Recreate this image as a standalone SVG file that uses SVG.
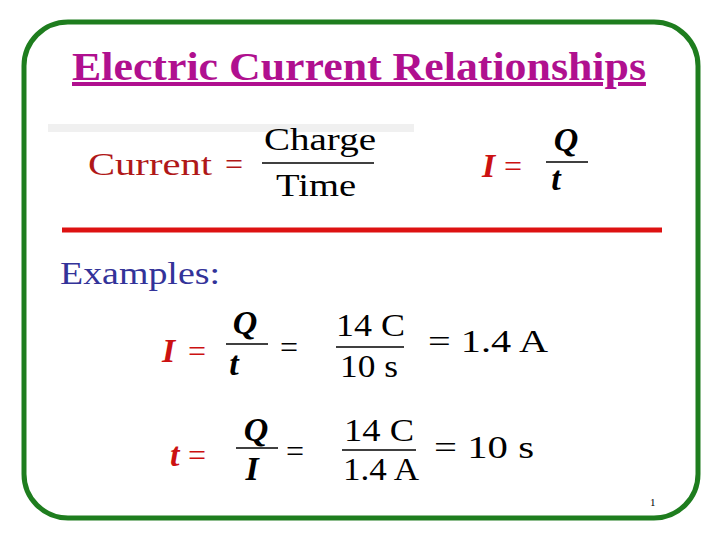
<svg xmlns="http://www.w3.org/2000/svg" width="720" height="540" viewBox="0 0 720 540">
<style>
.t{font-family:"Liberation Serif",serif}
.b{font-family:"Liberation Serif",serif;font-weight:bold;fill:#000}
.i{font-family:"Liberation Serif",serif;font-style:italic;font-weight:bold}
.red{fill:#cc1111}
.ln{stroke:#000;stroke-width:1.5}
</style>
<rect x="0" y="0" width="720" height="540" fill="#fff"/>
<rect x="48" y="124" width="366" height="8" fill="#f0f0f0"/>
<rect x="24" y="22" width="674" height="496" rx="44" fill="none" stroke="#1e7d1e" stroke-width="5"/>
<g id="title"><text class="t" x="72" y="80" font-size="40" font-weight="bold" fill="#b0108f" text-decoration="underline" textLength="574" lengthAdjust="spacingAndGlyphs">Electric Current Relationships</text></g>
<g id="def">
<text class="t" x="88" y="175" font-size="32" fill="#b01818" textLength="124" lengthAdjust="spacingAndGlyphs">Current</text>
<text class="t" x="225" y="175" font-size="32" fill="#b01818">=</text>
<text class="t" x="264" y="150" font-size="32" fill="#000" textLength="112" lengthAdjust="spacingAndGlyphs">Charge</text>
<line class="ln" x1="262" y1="163" x2="374" y2="163"/>
<text class="t" x="276" y="196" font-size="32" fill="#000" textLength="80" lengthAdjust="spacingAndGlyphs">Time</text>
</g>
<g id="def2">
<text class="i red" x="482" y="177" font-size="34">I</text>
<text class="t red" x="504" y="177" font-size="32">=</text>
<text class="i" x="566" y="151" font-size="34" text-anchor="middle">Q</text>
<line class="ln" x1="546" y1="162" x2="588" y2="162"/>
<text class="i" x="556" y="190" font-size="34" text-anchor="middle">t</text>
</g>
<line x1="62" y1="230" x2="662" y2="230" stroke="#dd1111" stroke-width="5"/>
<g id="examples"><text class="t" x="60" y="284" font-size="32" fill="#333399" textLength="160" lengthAdjust="spacingAndGlyphs">Examples:</text></g>
<g id="ex1">
<text class="i red" x="162" y="362" font-size="34">I</text>
<text class="t red" x="188" y="362" font-size="32">=</text>
<text class="i" x="245" y="334" font-size="34" text-anchor="middle">Q</text>
<line class="ln" x1="226" y1="344" x2="268" y2="344"/>
<text class="i" x="234" y="375" font-size="34" text-anchor="middle">t</text>
<text class="t" x="280" y="358" font-size="32">=</text>
<text class="t" x="336" y="336" font-size="32" textLength="69" lengthAdjust="spacingAndGlyphs">14 C</text>
<line class="ln" x1="336" y1="347" x2="404" y2="347"/>
<text class="t" x="340" y="377" font-size="32" textLength="58" lengthAdjust="spacingAndGlyphs">10 s</text>
<text class="t" x="428" y="352" font-size="32" textLength="120" lengthAdjust="spacingAndGlyphs">=  1.4 A</text>
</g>
<g id="ex2">
<text class="i red" x="170" y="466" font-size="34">t</text>
<text class="t red" x="188" y="466" font-size="32">=</text>
<text class="i" x="256" y="441" font-size="34" text-anchor="middle">Q</text>
<line class="ln" x1="236" y1="448" x2="278" y2="448"/>
<text class="i" x="252" y="480" font-size="34" text-anchor="middle">I</text>
<text class="t" x="286" y="462" font-size="32">=</text>
<text class="t" x="344" y="441" font-size="32" textLength="70" lengthAdjust="spacingAndGlyphs">14 C</text>
<line class="ln" x1="342" y1="450" x2="416" y2="450"/>
<text class="t" x="343" y="480" font-size="32" textLength="76" lengthAdjust="spacingAndGlyphs">1.4 A</text>
<text class="t" x="434" y="458" font-size="32" textLength="100" lengthAdjust="spacingAndGlyphs">=  10 s</text>
</g>
<text class="t" x="650" y="506" font-size="11" fill="#000">1</text>
</svg>
